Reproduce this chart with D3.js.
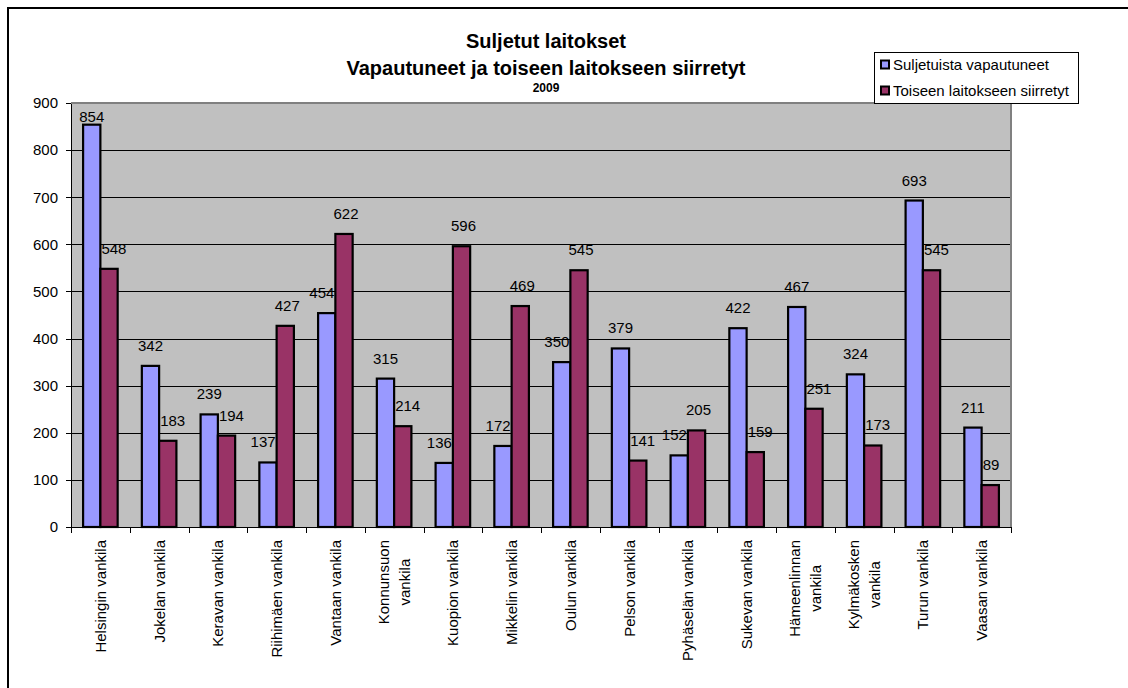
<!DOCTYPE html>
<meta charset="utf-8">
<style>
body { margin: 0; background: #fff; }
svg { font-family: "Liberation Sans", Arial, sans-serif; }
.axis path, .axis line { stroke: #000; shape-rendering: crispEdges; }
.axis text { font-size: 15px; fill: #000; }
</style>
<svg width="1128" height="688"></svg>
<script src="https://d3js.org/d3.v7.min.js"></script>
<script>

// prisons, "\n" marks a wrapped label
var categories = ["Helsingin vankila", "Jokelan vankila", "Keravan vankila", "Riihimäen vankila",
  "Vantaan vankila", "Konnunsuon\nvankila", "Kuopion vankila", "Mikkelin vankila", "Oulun vankila",
  "Pelson vankila", "Pyhäselän vankila", "Sukevan vankila", "Hämeenlinnan\nvankila",
  "Kylmäkosken\nvankila", "Turun vankila", "Vaasan vankila"];
var released = [854, 342, 239, 137, 454, 315, 136, 172, 350, 379, 152, 422, 467, 324, 693, 211];
var transferred = [548, 183, 194, 427, 622, 214, 596, 469, 545, 141, 205, 159, 251, 173, 545, 89];
var seriesNames = ["Suljetuista vapautuneet", "Toiseen laitokseen siirretyt"];
var yTicks = [0, 100, 200, 300, 400, 500, 600, 700, 800, 900];
var titleLines = ["Suljetut laitokset", "Vapautuneet ja toiseen laitokseen siirretyt"];
var subtitle = "2009";

var colors = ["#9999ff", "#993366"];

var svg = d3.select("svg"),
    plot = {left: 71, right: 1011, top: 103, bottom: 527};

// outer frame (goes off the page on the right and bottom)
svg.append("rect")
  .attr("x", 8).attr("y", 8).attr("width", 1300).attr("height", 900)
  .attr("fill", "none").attr("stroke", "#000").attr("stroke-width", 2);

var x = d3.scaleBand()
  .domain(d3.range(categories.length))
  .range([plot.left, plot.right]);

var y = d3.scaleLinear()
  .domain([0, 900])
  .range([plot.bottom, plot.top]);

var sub = d3.scaleBand()
  .domain([0, 1])
  .range([0, x.bandwidth()])
  .paddingInner(0)
  .paddingOuter(0.7);

// plot background
svg.append("rect")
  .attr("x", plot.left).attr("y", plot.top)
  .attr("width", plot.right - plot.left).attr("height", plot.bottom - plot.top)
  .attr("fill", "#c0c0c0");

// gridlines
svg.append("g").selectAll("line")
  .data(yTicks.slice(1))
  .enter().append("line")
  .attr("x1", plot.left).attr("x2", plot.right)
  .attr("y1", function(d) { return Math.round(y(d)) + 0.5; })
  .attr("y2", function(d) { return Math.round(y(d)) + 0.5; })
  .attr("stroke", "#000").attr("stroke-width", 1);

// top / right border of plot area
svg.append("path")
  .attr("d", "M" + plot.left + "," + plot.top + "H" + plot.right + "V" + plot.bottom)
  .attr("fill", "none").attr("stroke", "#808080").attr("stroke-width", 2);

var series = [released, transferred];

var bars = svg.append("g");
series.forEach(function(vals, s) {
  bars.selectAll(".s" + s)
    .data(vals)
    .enter().append("rect")
    .attr("class", "s" + s)
    .attr("x", function(d, i) { return x(i) + sub(s); })
    .attr("y", function(d) { return y(d); })
    .attr("width", sub.bandwidth())
    .attr("height", function(d) { return y(0) - y(d); })
    .attr("fill", colors[s])
    .attr("stroke", "#000").attr("stroke-width", 2.2);
});

// y axis
svg.append("g")
  .attr("class", "axis")
  .attr("transform", "translate(" + plot.left + ",0)")
  .call(d3.axisLeft(y).tickValues(yTicks).tickSize(5).tickPadding(8).tickSizeOuter(0));

// x axis: ticks on band boundaries
svg.append("line")
  .attr("x1", plot.left).attr("x2", plot.right)
  .attr("y1", plot.bottom + 0.5).attr("y2", plot.bottom + 0.5)
  .attr("stroke", "#000");
svg.append("g").selectAll("line")
  .data(d3.range(categories.length + 1))
  .enter().append("line")
  .attr("x1", function(i) { return Math.round(plot.left + i * x.step()) + 0.5; })
  .attr("x2", function(i) { return Math.round(plot.left + i * x.step()) + 0.5; })
  .attr("y1", plot.bottom).attr("y2", plot.bottom + 6)
  .attr("stroke", "#000");

// category labels, rotated
var lineH = 21;
var xl = svg.append("g").selectAll("g")
  .data(categories)
  .enter().append("g")
  .attr("transform", function(d, i) { return "translate(" + (x(i) + x.bandwidth() / 2) + "," + (plot.bottom + 13) + ") rotate(-90)"; });
xl.each(function(d) {
  var g = d3.select(this), lines = d.split("\n");
  var t = g.selectAll("text").data(lines).enter().append("text")
    .attr("font-size", 15)
    .attr("text-anchor", "middle")
    .attr("y", function(l, j) { return (j - (lines.length - 1) / 2) * lineH + 5.4; })
    .text(function(l) { return l; });
  var w = d3.max(t.nodes(), function(n) { return n.getComputedTextLength(); });
  t.attr("x", -w / 2);
});

// data labels, nudged sideways when they would hit the neighbouring bar
var labels = svg.append("g");
series.forEach(function(vals, s) {
  var other = series[1 - s];
  labels.selectAll(".l" + s)
    .data(vals)
    .enter().append("text")
    .attr("font-size", 15)
    .attr("text-anchor", "middle")
    .text(function(d) { return d; })
    .each(function(d, i) {
      var w = this.getComputedTextLength();
      var cx = x(i) + sub(s) + sub.bandwidth() / 2;
      var base = Math.max(y(d) - 15, plot.top + 19);
      if (y(other[i]) < base) {
        if (s === 1) cx = x(i) + sub(0) + sub.bandwidth() + 1 + w / 2;
        else cx = x(i) + sub(1) - 1 - w / 2;
      } else if (s === 1) {
        cx += 2;
      }
      d3.select(this).attr("x", cx).attr("y", base);
    });
});

// titles
var cxTitle = 546;
svg.append("text").attr("x", cxTitle).attr("y", 48)
  .attr("text-anchor", "middle").attr("font-size", 20).attr("font-weight", "bold")
  .text(titleLines[0]);
svg.append("text").attr("x", cxTitle).attr("y", 75)
  .attr("text-anchor", "middle").attr("font-size", 20).attr("font-weight", "bold")
  .text(titleLines[1]);
svg.append("text").attr("x", cxTitle).attr("y", 92)
  .attr("text-anchor", "middle").attr("font-size", 12).attr("font-weight", "bold")
  .text(subtitle);

// legend
var legend = svg.append("g").attr("transform", "translate(874,52)");
legend.append("rect")
  .attr("x", 0.5).attr("y", 0.5).attr("width", 204).attr("height", 51)
  .attr("fill", "#fff").attr("stroke", "#000");
var li = legend.selectAll(".li")
  .data(seriesNames)
  .enter().append("g")
  .attr("transform", function(d, i) { return "translate(0," + (12.5 + i * 26) + ")"; });
li.append("rect")
  .attr("x", 7).attr("y", -4).attr("width", 8).attr("height", 8)
  .attr("fill", function(d, i) { return colors[i]; })
  .attr("stroke", "#000").attr("stroke-width", 2);
li.append("text")
  .attr("x", 19).attr("y", 5.5)
  .attr("font-size", 15)
  .text(function(d) { return d; });

</script>
